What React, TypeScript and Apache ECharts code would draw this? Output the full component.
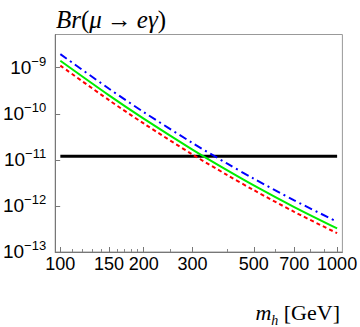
import React, { useEffect, useRef } from "react";
import * as echarts from "echarts";

// Higgs masses (GeV) at which the curves were read
const masses = [100, 150, 200, 300, 400, 500, 700, 1000];
// Br(mu -> e gamma) curves
const blueValues = [1.97e-9, 3.49e-10, 1.09e-10, 2.33e-11, 8.35e-12, 3.9e-12, 1.32e-12, 4.54e-13];
const greenValues = [1.41e-9, 2.5e-10, 7.83e-11, 1.67e-11, 5.98e-12, 2.79e-12, 9.45e-13, 3.25e-13];
const redValues = [1.11e-9, 1.97e-10, 6.16e-11, 1.31e-11, 4.71e-12, 2.2e-12, 7.44e-13, 2.56e-13];
// experimental bound
const boundMasses = [100, 1000];
const boundValue = 1.2e-11;
// ticks
const xMajorTicks = [100, 150, 200, 300, 500, 700, 1000];
const xMinorTicks = [110, 120, 130, 140, 160, 170, 180, 190, 250, 400, 600, 800, 900];
const yTicks = [1e-13, 1e-12, 1e-11, 1e-10, 1e-9];

const X_MIN = 95.8;
const X_MAX = 1045;
const Y_MIN = 0.9999e-13;
const Y_MAX = 5.25e-9;

const pairs = (xs: number[], ys: number[]) => xs.map((x, i) => [x, ys[i]]);

export default function App() {
  const ref = useRef<HTMLDivElement>(null);
  useEffect(() => {
    if (!ref.current) return;
    const chart = echarts.init(ref.current, undefined, { renderer: "svg" });
    const labelFont = "'Liberation Sans Narrow', 'Liberation Sans', sans-serif";
    const serif = "'Liberation Serif', 'DejaVu Serif', serif";
    const it = { fontFamily: serif, fontStyle: "italic", fontWeight: "normal", color: "#000" };
    const rm = { fontFamily: serif, fontStyle: "normal", fontWeight: "normal", color: "#000" };
    chart.setOption({
      animation: false,
      backgroundColor: "#fff",
      title: [
        {
          left: 51,
          top: 2,
          text: "{i|Br}{r|(}{i|μ}{a|→}{i|eγ}{r|)}",
          textStyle: {
            fontWeight: "normal",
            rich: {
              i: { ...it, fontSize: 25 },
              r: { ...rm, fontSize: 25 },
              a: { ...rm, fontSize: 25, padding: [0, 5, 0, 5] },
            },
          },
        },
        {
          right: 15,
          top: 292,
          text: "{i|m}{sub|h}{r| [GeV]}",
          textStyle: {
            fontWeight: "normal",
            rich: {
              i: { ...it, fontSize: 22, lineHeight: 30 },
              sub: { ...it, fontSize: 14, lineHeight: 14, verticalAlign: "bottom" },
              r: { ...rm, fontSize: 22, lineHeight: 30 },
            },
          },
        },
      ],
      grid: {
        left: 48,
        right: 14.5,
        top: 34.5,
        bottom: 75,
        show: true,
        borderColor: "#999",
        borderWidth: 1,
        backgroundColor: "transparent",
      },
      xAxis: [
        {
          type: "log",
          min: X_MIN,
          max: X_MAX,
          axisLine: { show: true, lineStyle: { color: "#777", width: 1 } },
          axisTick: { show: true, inside: true, length: 5, customValues: xMajorTicks, lineStyle: { color: "#777" } },
          axisLabel: {
            show: true,
            customValues: xMajorTicks,
            margin: 3,
            fontFamily: labelFont,
            fontSize: 18,
            color: "#000",
            formatter: (v: number) => String(Math.round(v)),
          },
          splitLine: { show: false },
          minorTick: { show: false },
        },
        {
          type: "log",
          min: X_MIN,
          max: X_MAX,
          position: "bottom",
          axisLine: { show: false },
          axisTick: { show: true, inside: true, length: 3, customValues: xMinorTicks, lineStyle: { color: "#888" } },
          axisLabel: { show: false },
          splitLine: { show: false },
        },
      ],
      yAxis: {
        type: "log",
        min: Y_MIN,
        max: Y_MAX,
        axisLine: { show: true, lineStyle: { color: "#777", width: 1 } },
        axisTick: { show: true, inside: true, length: 5, customValues: yTicks, lineStyle: { color: "#777" } },
        axisLabel: {
          show: true,
          customValues: yTicks,
          margin: 9,
          formatter: (v: number) => {
            const e = Math.round(Math.log10(v));
            return "{b|10}{s|" + (e < 0 ? "−" + String(-e) : String(e)) + "}";
          },
          rich: {
            b: { fontFamily: labelFont, fontSize: 19, color: "#000", lineHeight: 26 },
            s: { fontFamily: labelFont, fontSize: 13, color: "#000", lineHeight: 12, verticalAlign: "top" },
          },
        },
        splitLine: { show: false },
      },
      series: [
        {
          type: "line",
          data: pairs(boundMasses, boundMasses.map(() => boundValue)),
          symbol: "none",
          lineStyle: { color: "#000", width: 3 },
          z: 2,
        },
        {
          type: "line",
          data: pairs(masses, blueValues),
          symbol: "none",
          smooth: 0.3,
          lineStyle: { color: "#0000ff", width: 2, type: [8, 4, 2, 4] },
          z: 3,
        },
        {
          type: "line",
          data: pairs(masses, greenValues),
          symbol: "none",
          smooth: 0.3,
          lineStyle: { color: "#00ee00", width: 2 },
          z: 3,
        },
        {
          type: "line",
          data: pairs(masses, redValues),
          symbol: "none",
          smooth: 0.3,
          lineStyle: { color: "#ff0000", width: 2, type: [4, 3] },
          z: 3,
        },
      ],
    });
    return () => chart.dispose();
  }, []);
  return <div ref={ref} style={{ position: "fixed", left: 0, top: 0, width: 360, height: 327 }} />;
}
